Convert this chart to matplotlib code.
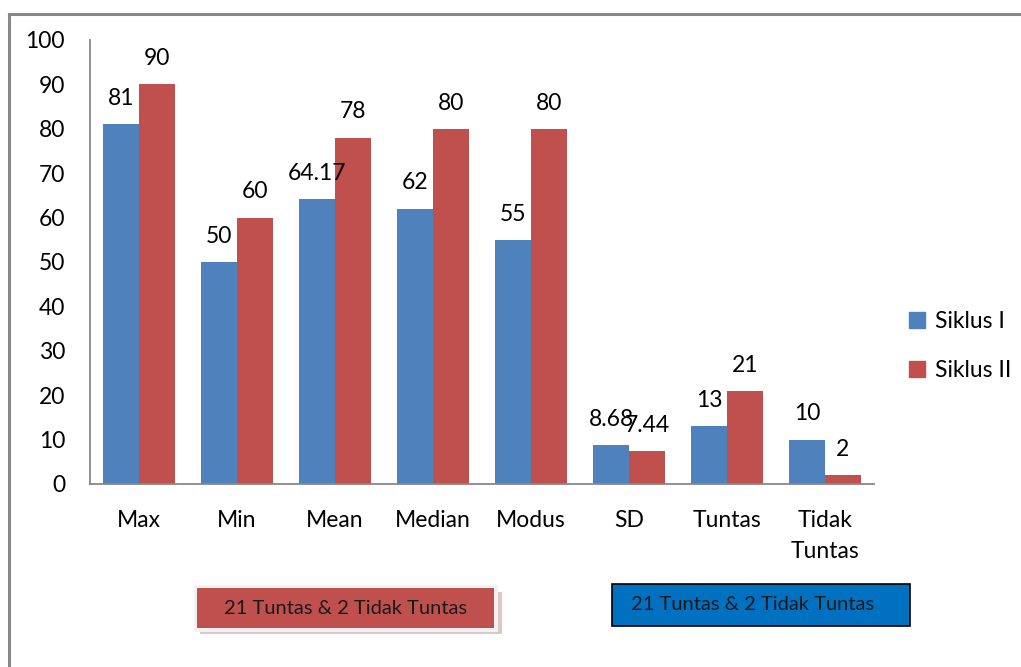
import matplotlib
matplotlib.use("Agg")
import matplotlib.pyplot as plt
import numpy as np
from matplotlib.patches import Rectangle
from matplotlib.lines import Line2D
from matplotlib import font_manager

categories = ["Max", "Min", "Mean", "Median", "Modus", "SD", "Tuntas", "Tidak\nTuntas"]
siklus1 = [81, 50, 64.17, 62, 55, 8.68, 13, 10]
siklus2 = [90, 60, 78, 80, 80, 7.44, 21, 2]
labels1 = ["81", "50", "64.17", "62", "55", "8.68", "13", "10"]
labels2 = ["90", "60", "78", "80", "80", "7.44", "21", "2"]
series_names = ["Siklus I", "Siklus II"]
yticks = [0, 10, 20, 30, 40, 50, 60, 70, 80, 90, 100]
box_text = "21 Tuntas & 2 Tidak Tuntas"

plt.rcParams['font.family'] = ['Lato', 'DejaVu Sans']

names = {f.name for f in font_manager.fontManager.ttflist}
box_font = ['Liberation Sans Narrow'] if 'Liberation Sans Narrow' in names else ['Lato', 'DejaVu Sans']

W, H = 1021, 667
FS = 16.5
fig = plt.figure(figsize=(W / 100, H / 100), dpi=100)
fig.patch.set_facecolor("white")

ax = fig.add_axes([90 / W, 1 - 484 / H, (874 - 90) / W, (484 - 40) / H])
blue = "#4F81BD"
red = "#C0504D"
x = np.arange(len(categories))
bw = 0.367
ax.bar(x - bw / 2, siklus1, bw, color=blue, label=series_names[0])
ax.bar(x + bw / 2, siklus2, bw, color=red, label=series_names[1])

for xi, v, lab in zip(x - bw / 2, siklus1, labels1):
    ax.text(xi, v + 5.8, lab, ha="center", va="center", fontsize=FS, color="black")
for xi, v, lab in zip(x + bw / 2, siklus2, labels2):
    ax.text(xi, v + 5.8, lab, ha="center", va="center", fontsize=FS, color="black")

ax.set_xlim(-0.5, len(categories) - 0.5)
ax.set_ylim(0, 100)
ax.set_yticks(yticks)
ax.set_yticklabels([str(t) for t in yticks], fontsize=FS)
ax.set_xticks(x)
ax.set_xticklabels(categories, fontsize=FS, linespacing=1.55, va="top")
ax.tick_params(axis="both", length=0)
ax.tick_params(axis="y", pad=18)
ax.tick_params(axis="x", pad=19)
for s in ["top", "right"]:
    ax.spines[s].set_visible(False)
for s in ["left", "bottom"]:
    ax.spines[s].set_color("#888888")
    ax.spines[s].set_linewidth(1.3)

# legend
handles = [Rectangle((0, 0), 1, 1, color=blue), Rectangle((0, 0), 1, 1, color=red)]
fig.legend(handles, series_names, loc="center left", bbox_to_anchor=(888 / W, 1 - 346 / H),
           frameon=False, fontsize=FS, handlelength=0.7, handleheight=0.7,
           handletextpad=0.45, labelspacing=1.25)

# outer frame lines
fig.add_artist(Line2D([9 / W, 9 / W], [0, 1 - 14 / H], color="#888888", lw=2.2,
                      transform=fig.transFigure))
fig.add_artist(Line2D([9 / W, 1], [1 - 14 / H, 1 - 14 / H], color="#888888", lw=2.2,
                      transform=fig.transFigure))

# red box with shadow
fig.add_artist(Rectangle((200 / W, 1 - 634 / H), 302 / W, 42 / H, transform=fig.transFigure,
                         facecolor="#d9c9c9", edgecolor="none"))
fig.add_artist(Rectangle((194 / W, 1 - 632 / H), 304 / W, 47 / H, transform=fig.transFigure,
                         facecolor="#f2f2f2", edgecolor="none"))
fig.add_artist(Rectangle((197 / W, 1 - 628 / H), 297 / W, 40 / H, transform=fig.transFigure,
                         facecolor=red, edgecolor="none"))
fig.text(346 / W, 1 - 609 / H, box_text, ha="center", va="center", fontsize=14.5,
         color="#1a1a1a", family=box_font)

# blue box
fig.add_artist(Rectangle((612 / W, 1 - 626 / H), 298 / W, 42 / H, transform=fig.transFigure,
                         facecolor="#0070C0", edgecolor="black", lw=1.2))
fig.text(753 / W, 1 - 605 / H, box_text, ha="center", va="center", fontsize=14.5,
         color="#1a1a1a", family=box_font)

fig.savefig("out.png", dpi=100)
